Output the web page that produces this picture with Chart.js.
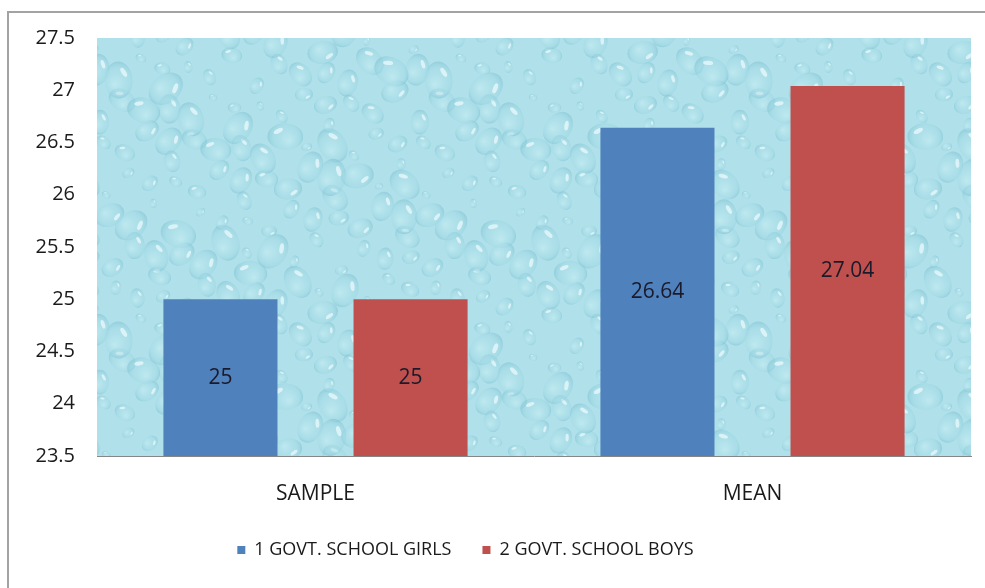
<!DOCTYPE html>
<html>
<head>
<meta charset="utf-8">
<script src="https://cdn.jsdelivr.net/npm/chart.js@4/dist/chart.umd.min.js"></script>
<style>
  html, body { margin: 0; padding: 0; background: #fff; }
  #wrap { width: 985px; height: 588px; }
</style>
</head>
<body>
<div id="wrap"><canvas id="chart" width="985" height="588"></canvas></div>
<script>
// ===== DATA =====
const categories = ["SAMPLE", "MEAN"];
const seriesNames = ["1 GOVT. SCHOOL GIRLS", "2 GOVT. SCHOOL BOYS"];
const girlsValues = [25, 26.64];
const boysValues = [25, 27.04];
const yTicks = [23.5, 24, 24.5, 25, 25.5, 26, 26.5, 27, 27.5];

const FONT = "'Open Sans', 'Liberation Sans', sans-serif";

// ===== WATER DROP BACKGROUND =====
function makeDropPattern() {
  const c = document.createElement("canvas");
  c.width = 320; c.height = 260;
  const g = c.getContext("2d");
  g.fillStyle = "#b0e1ea";
  g.fillRect(0, 0, c.width, c.height);
  // drops spread with a low-discrepancy sequence (no randomness)
  for (let i = 1; i <= 110; i++) {
    const x = ((i * 0.7548777) % 1) * c.width;
    const y = ((i * 0.5698403) % 1) * c.height;
    const r = 4 + ((i * 0.618034) % 1) * 15;
    const rot = ((i * 0.41421) % 1) * Math.PI;
    for (const dx of [-c.width, 0, c.width]) {
      for (const dy of [-c.height, 0, c.height]) {
        const cx = x + dx, cy = y + dy;
        if (cx < -25 || cx > c.width + 25 || cy < -25 || cy > c.height + 25) continue;
        g.save();
        g.translate(cx, cy);
        g.rotate(rot);
        const grad = g.createRadialGradient(r * 0.25, r * 0.25, 0, 0, 0, r);
        grad.addColorStop(0, "rgba(205,240,246,0.5)");
        grad.addColorStop(0.75, "rgba(155,214,226,0.4)");
        grad.addColorStop(1, "rgba(115,186,203,0.45)");
        g.fillStyle = grad;
        g.beginPath();
        g.ellipse(0, 0, r, r * 0.75, 0, 0, Math.PI * 2);
        g.fill();
        g.fillStyle = "rgba(245,253,255,0.65)";
        g.beginPath();
        g.ellipse(-r * 0.4, -r * 0.3, r * 0.28, r * 0.12, -0.5, 0, Math.PI * 2);
        g.fill();
        g.restore();
      }
    }
  }
  return c;
}

const backgroundPlugin = {
  id: "plotBackground",
  afterLayout(chart) {
    // legend sits a bit left of the canvas centre
    if (chart.legend) chart.legend.right -= 40;
  },
  beforeDraw(chart) {
    const { ctx, chartArea: a } = chart;
    ctx.save();
    ctx.fillStyle = "#fff";
    ctx.fillRect(0, 0, chart.width, chart.height);
    ctx.strokeStyle = "#a3a3a3";
    ctx.lineWidth = 2;
    ctx.strokeRect(8, 12, chart.width + 20, chart.height + 20);
    ctx.fillStyle = ctx.createPattern(makeDropPattern(), "repeat");
    ctx.fillRect(a.left, a.top, a.right - a.left, a.bottom - a.top);
    ctx.restore();
  }
};

const valueLabelPlugin = {
  id: "valueLabels",
  afterDatasetsDraw(chart) {
    const { ctx, chartArea } = chart;
    ctx.save();
    ctx.font = "21px " + FONT;
    ctx.fillStyle = "#1a1a2a";
    ctx.textAlign = "center";
    ctx.textBaseline = "middle";
    chart.data.datasets.forEach((ds, i) => {
      chart.getDatasetMeta(i).data.forEach((bar, j) => {
        const mid = (bar.y + chartArea.bottom) / 2;
        ctx.fillText(String(ds.data[j]), bar.x, mid);
      });
    });
    ctx.restore();
  }
};

new Chart(document.getElementById("chart"), {
  type: "bar",
  data: {
    labels: categories,
    datasets: [
      { label: seriesNames[0], data: girlsValues, backgroundColor: "#4f81bd" },
      { label: seriesNames[1], data: boysValues, backgroundColor: "#c0504d" }
    ]
  },
  options: {
    responsive: false,
    animation: false,
    layout: { padding: { top: 38, right: 14, bottom: 19, left: 0 } },
    categoryPercentage: 0.87,
    barPercentage: 0.6,
    scales: {
      x: {
        grid: { display: false, drawTicks: false },
        border: { display: true, color: "#868686", width: 1 },
        ticks: { color: "#1a1a1a", font: { family: FONT, size: 21 }, padding: 25 },
        afterFit(s) { s.height = 54; }
      },
      y: {
        min: 23.5,
        max: 27.5,
        afterBuildTicks(s) { s.ticks = yTicks.map(v => ({ value: v })); },
        grid: { display: false, drawTicks: false },
        border: { display: false },
        ticks: {
          color: "#1a1a1a",
          font: { family: FONT, size: 20 },
          padding: 22,
          callback: v => String(v)
        },
        afterFit(s) { s.width = 97; }
      }
    },
    plugins: {
      tooltip: { enabled: false },
      legend: {
        position: "bottom",
        labels: {
          boxWidth: 8,
          boxHeight: 8,
          padding: 31,
          color: "#1a1a1a",
          font: { family: FONT, size: 18 }
        }
      }
    }
  },
  plugins: [backgroundPlugin, valueLabelPlugin]
});
</script>
</body>
</html>
